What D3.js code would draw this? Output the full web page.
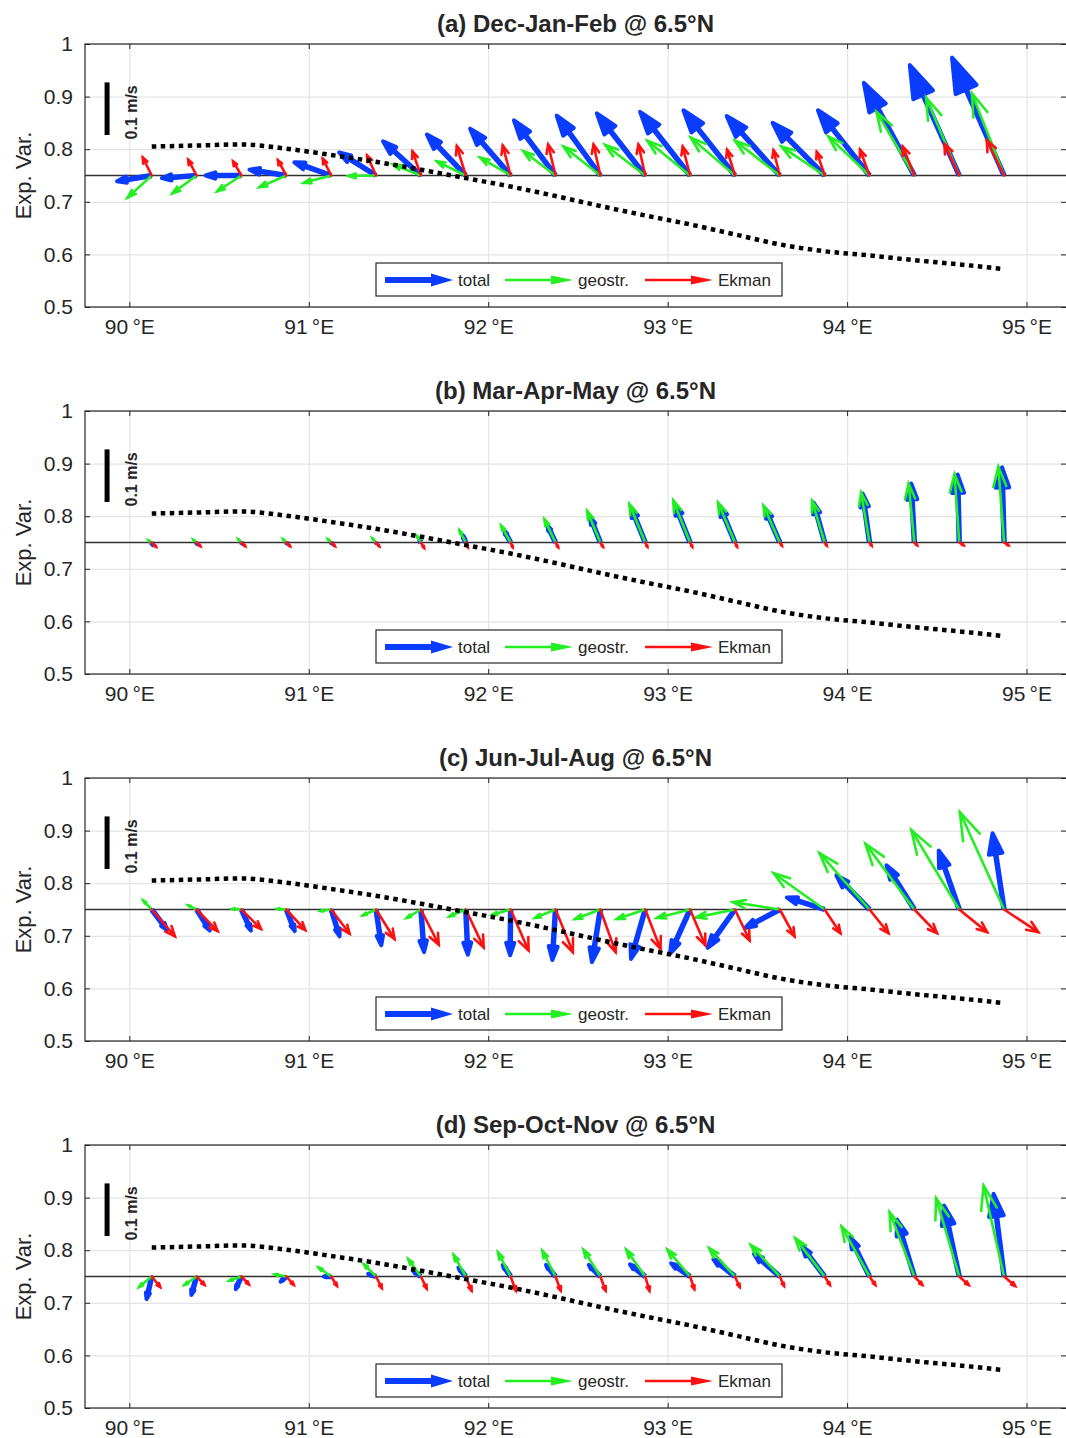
<!DOCTYPE html>
<html>
<head>
<meta charset="utf-8">
<script src="https://cdn.jsdelivr.net/npm/d3@7/dist/d3.min.js"></script>
<style>
    body { margin: 0; background: #fff; }
    text { font-family: "Liberation Sans", Arial, Helvetica, sans-serif; fill: #262626; }
</style>
</head>
<body>
<div id="chart"></div>
<script>

// station longitudes (deg E) along 6.5N
const lons = [90.125, 90.375, 90.625, 90.875, 91.125, 91.375, 91.625, 91.875, 92.125, 92.375,
              92.625, 92.875, 93.125, 93.375, 93.625, 93.875, 94.125, 94.375, 94.625, 94.875];

// explained variance (dotted line), same in every panel
const expVar = [0.805, 0.807, 0.809, 0.801, 0.789, 0.776, 0.761, 0.745, 0.729, 0.711,
                0.692, 0.674, 0.657, 0.638, 0.619, 0.606, 0.598, 0.589, 0.581, 0.572];

const titles = ["(a) Dec-Jan-Feb @ 6.5°N", "(b) Mar-Apr-May @ 6.5°N",
                "(c) Jun-Jul-Aug @ 6.5°N", "(d) Sep-Oct-Nov @ 6.5°N"];

const xTicks = [90, 91, 92, 93, 94, 95];
const yTicks = [0.5, 0.6, 0.7, 0.8, 0.9, 1];

// velocity vectors [u, v] in m/s
const djfTotal = [[-0.066,-0.011],[-0.066,-0.005],[-0.068,0.000],[-0.070,0.011],[-0.070,0.025],
                  [-0.070,0.044],[-0.072,0.065],[-0.074,0.078],[-0.077,0.089],[-0.079,0.105],
                  [-0.083,0.114],[-0.092,0.118],[-0.095,0.121],[-0.098,0.124],[-0.101,0.113],
                  [-0.099,0.100],[-0.098,0.124],[-0.096,0.176],[-0.094,0.210],[-0.099,0.224]];
const djfGeo   = [[-0.046,-0.042],[-0.046,-0.034],[-0.046,-0.030],[-0.051,-0.022],[-0.052,-0.014],
                  [-0.052,-0.001],[-0.053,0.021],[-0.055,0.027],[-0.058,0.034],[-0.061,0.046],
                  [-0.070,0.055],[-0.076,0.058],[-0.081,0.066],[-0.084,0.072],[-0.085,0.066],
                  [-0.082,0.055],[-0.078,0.074],[-0.072,0.121],[-0.063,0.148],[-0.061,0.156]];
const djfEk    = [[-0.017,0.034],[-0.016,0.030],[-0.016,0.027],[-0.016,0.029],[-0.016,0.032],
                  [-0.017,0.038],[-0.016,0.046],[-0.017,0.056],[-0.015,0.057],[-0.014,0.059],
                  [-0.013,0.059],[-0.013,0.059],[-0.014,0.055],[-0.015,0.049],[-0.012,0.048],
                  [-0.015,0.045],[-0.018,0.049],[-0.022,0.055],[-0.028,0.060],[-0.033,0.067]];

const mamTotal = [[0.002,-0.005],[0.001,-0.003],[0.001,-0.002],[0.001,-0.002],[0.001,-0.002],
                  [0.000,-0.001],[-0.003,0.004],[-0.006,0.014],[-0.012,0.022],[-0.015,0.032],
                  [-0.019,0.048],[-0.027,0.067],[-0.029,0.073],[-0.029,0.070],[-0.028,0.065],
                  [-0.021,0.076],[-0.013,0.093],[-0.006,0.112],[-0.003,0.129],[-0.004,0.143]];
const mamGeo   = [[-0.006,0.004],[-0.006,0.005],[-0.006,0.006],[-0.006,0.006],[-0.006,0.006],
                  [-0.007,0.008],[-0.008,0.013],[-0.012,0.023],[-0.018,0.032],[-0.021,0.044],
                  [-0.025,0.060],[-0.030,0.073],[-0.032,0.080],[-0.032,0.076],[-0.031,0.070],
                  [-0.024,0.079],[-0.016,0.095],[-0.011,0.112],[-0.009,0.130],[-0.011,0.144]];
const mamEk    = [[0.008,-0.008],[0.007,-0.007],[0.007,-0.007],[0.007,-0.007],[0.007,-0.007],
                  [0.006,-0.007],[0.006,-0.010],[0.004,-0.009],[0.004,-0.009],[0.005,-0.009],
                  [0.005,-0.008],[0.004,-0.008],[0.004,-0.008],[0.004,-0.008],[0.004,-0.006],
                  [0.004,-0.006],[0.004,-0.006],[0.005,-0.005],[0.008,-0.005],[0.008,-0.005]];

const jjaTotal = [[0.029,-0.039],[0.025,-0.040],[0.018,-0.040],[0.016,-0.041],[0.016,-0.051],
                  [0.010,-0.068],[0.006,-0.081],[0.004,-0.086],[-0.001,-0.087],[-0.006,-0.096],
                  [-0.016,-0.100],[-0.027,-0.094],[-0.038,-0.084],[-0.052,-0.073],[-0.066,-0.035],
                  [-0.072,0.023],[-0.063,0.065],[-0.053,0.084],[-0.039,0.112],[-0.022,0.145]];
const jjaGeo   = [[-0.016,0.017],[-0.016,0.008],[-0.017,0.001],[-0.017,0.001],[-0.020,-0.003],
                  [-0.025,-0.011],[-0.027,-0.016],[-0.031,-0.013],[-0.035,-0.010],[-0.039,-0.016],
                  [-0.048,-0.018],[-0.054,-0.018],[-0.063,-0.016],[-0.074,-0.015],[-0.089,0.014],
                  [-0.097,0.069],[-0.095,0.107],[-0.093,0.125],[-0.091,0.151],[-0.084,0.185]];
const jjaEk    = [[0.044,-0.051],[0.040,-0.041],[0.037,-0.037],[0.036,-0.039],[0.035,-0.046],
                  [0.035,-0.056],[0.034,-0.067],[0.034,-0.072],[0.034,-0.078],[0.033,-0.081],
                  [0.029,-0.081],[0.029,-0.075],[0.029,-0.068],[0.028,-0.059],[0.028,-0.051],
                  [0.030,-0.045],[0.036,-0.045],[0.043,-0.045],[0.053,-0.043],[0.065,-0.043]];

const sonTotal = [[-0.010,-0.043],[-0.010,-0.035],[-0.011,-0.024],[-0.011,-0.010],[-0.014,0.000],
                  [-0.015,0.005],[-0.015,0.011],[-0.014,0.017],[-0.015,0.022],[-0.018,0.022],
                  [-0.022,0.022],[-0.029,0.023],[-0.036,0.025],[-0.041,0.033],[-0.049,0.043],
                  [-0.043,0.057],[-0.037,0.075],[-0.033,0.108],[-0.029,0.135],[-0.020,0.157]];
const sonGeo   = [[-0.024,-0.020],[-0.023,-0.016],[-0.023,-0.008],[-0.022,0.004],[-0.024,0.017],
                  [-0.023,0.023],[-0.024,0.033],[-0.023,0.041],[-0.024,0.046],[-0.025,0.049],
                  [-0.032,0.051],[-0.036,0.051],[-0.043,0.051],[-0.049,0.054],[-0.055,0.060],
                  [-0.056,0.073],[-0.053,0.095],[-0.047,0.122],[-0.044,0.149],[-0.039,0.173]];
const sonEk    = [[0.016,-0.020],[0.015,-0.016],[0.014,-0.015],[0.014,-0.016],[0.011,-0.018],
                  [0.011,-0.022],[0.011,-0.023],[0.011,-0.027],[0.010,-0.027],[0.010,-0.027],
                  [0.010,-0.027],[0.008,-0.027],[0.008,-0.024],[0.009,-0.020],[0.008,-0.018],
                  [0.010,-0.016],[0.011,-0.016],[0.015,-0.016],[0.018,-0.016],[0.021,-0.018]];

const seriesNames = ["total", "geostr.", "Ekman"];


const svg = d3.select("#chart").append("svg")
    .attr("width", 1066)
    .attr("height", 1438);

// arrow looks per series (head size follows vector length, like quiver)
const styles = {
    total:  {color: "#0a3cff", width: 5.5, headFrac: 0.27, headW: 0.33, filled: true},
    geo:    {color: "#22ee22", width: 2.6, headFrac: 0.26, headW: 0.33, filled: false},
    ekman:  {color: "#ff1010", width: 2.6, headFrac: 0.28, headW: 0.42, filled: false}
};


class QuiverPanel {
    constructor(top, title, total, geo, ekman) {
        this.top = top;
        this.title = title;
        this.total = total;
        this.geo = geo;
        this.ekman = ekman;
        this.baseline = 0.75;

        this.initVis();
    }

    initVis() {
        let vis = this;

        vis.left = 85;
        vis.right = 1066;
        vis.height = 263;

        vis.g = svg.append("g")
            .attr("transform", `translate(0, ${vis.top})`);

        vis.x = d3.scaleLinear()
            .domain([89.753, 95.22])
            .range([vis.left, vis.right]);

        vis.y = d3.scaleLinear()
            .domain([0.5, 1])
            .range([vis.height, 0]);

        // pixels per m/s (quiver uses the y scale for both components)
        vis.k = (vis.y(0) - vis.y(0.1)) / 0.1;

        vis.drawAxes();
        vis.updateVis();
    }

    drawAxes() {
        let vis = this;
        let w = vis.right - vis.left;

        // grid
        vis.g.append("g")
            .attr("class", "grid")
            .attr("transform", `translate(0, ${vis.height})`)
            .call(d3.axisBottom(vis.x).tickValues(xTicks).tickSize(-vis.height).tickFormat(""));
        vis.g.append("g")
            .attr("class", "grid")
            .attr("transform", `translate(${vis.left}, 0)`)
            .call(d3.axisLeft(vis.y).tickValues(yTicks).tickSize(-w).tickFormat(""));
        vis.g.selectAll(".grid .domain").remove();
        vis.g.selectAll(".grid line").attr("stroke", "#e4e4e4").attr("stroke-width", 1.2);

        // box
        vis.g.append("rect")
            .attr("x", vis.left)
            .attr("y", 0)
            .attr("width", w + 1)
            .attr("height", vis.height)
            .attr("fill", "none")
            .attr("stroke", "#262626")
            .attr("stroke-width", 1.2);

        // tick axes (ticks point inward)
        let bottom = vis.g.append("g")
            .attr("transform", `translate(0, ${vis.height})`)
            .call(d3.axisBottom(vis.x).tickValues(xTicks).tickSizeInner(-5).tickSizeOuter(0)
                .tickPadding(12).tickFormat(d => d + "\u2009°E"));
        let left = vis.g.append("g")
            .attr("transform", `translate(${vis.left}, 0)`)
            .call(d3.axisLeft(vis.y).tickValues(yTicks).tickSizeInner(-5).tickSizeOuter(0)
                .tickPadding(12).tickFormat(d => d === 1 ? "1" : d.toFixed(1)));
        let topAx = vis.g.append("g")
            .call(d3.axisTop(vis.x).tickValues(xTicks).tickSizeInner(-5).tickSizeOuter(0).tickFormat(""));
        let rightAx = vis.g.append("g")
            .attr("transform", `translate(${vis.right}, 0)`)
            .call(d3.axisRight(vis.y).tickValues(yTicks).tickSizeInner(-5).tickSizeOuter(0).tickFormat(""));

        [bottom, left, topAx, rightAx].forEach(a => {
            a.select(".domain").remove();
            a.selectAll("line").attr("stroke", "#262626");
            a.selectAll("text")
                .attr("fill", "#262626")
                .style("font-size", "21px")
                .style("font-family", '"Liberation Sans", Arial, sans-serif');
        });

        // y label
        vis.g.append("text")
            .attr("transform", `translate(23, ${vis.y(0.75)}) rotate(-90)`)
            .attr("text-anchor", "middle")
            .attr("dominant-baseline", "central")
            .style("font-size", "22px")
            .text("Exp. Var.");

        // title
        vis.g.append("text")
            .attr("x", (vis.left + vis.right) / 2)
            .attr("y", -12)
            .attr("text-anchor", "middle")
            .style("font-size", "24px")
            .style("font-weight", "bold")
            .attr("fill", "#000")
            .text(vis.title);
    }

    updateVis() {
        let vis = this;

        // 0.75 reference line
        vis.g.append("line")
            .attr("x1", vis.left)
            .attr("x2", vis.right)
            .attr("y1", vis.y(vis.baseline))
            .attr("y2", vis.y(vis.baseline))
            .attr("stroke", "#303030")
            .attr("stroke-width", 1.3);

        // scale bar 0.1 m/s
        let barLon = 89.876;
        vis.g.append("line")
            .attr("x1", vis.x(barLon))
            .attr("x2", vis.x(barLon))
            .attr("y1", vis.y(0.927))
            .attr("y2", vis.y(0.927 - 0.1))
            .attr("stroke", "#000")
            .attr("stroke-width", 5);
        vis.g.append("text")
            .attr("transform", `translate(${vis.x(barLon) + 24}, ${vis.y(0.87)}) rotate(-90)`)
            .attr("text-anchor", "middle")
            .attr("dominant-baseline", "central")
            .style("font-size", "16px")
            .style("font-weight", "bold")
            .attr("fill", "#000")
            .text("0.1 m/s");

        // vectors: total, then geostrophic, then Ekman on top
        let arrows = vis.g.append("g").attr("class", "arrows");
        [[vis.total, styles.total], [vis.geo, styles.geo], [vis.ekman, styles.ekman]].forEach(([data, st]) => {
            data.forEach((d, i) => vis.drawArrow(arrows, lons[i], d[0], d[1], st));
        });

        // explained variance
        let line = d3.line()
            .x((d, i) => vis.x(lons[i]))
            .y(d => vis.y(d))
            .curve(d3.curveMonotoneX);
        vis.g.append("path")
            .datum(expVar)
            .attr("d", line)
            .attr("fill", "none")
            .attr("stroke", "#000")
            .attr("stroke-width", 4.5)
            .attr("stroke-dasharray", "4.5 4.5");

        vis.drawLegend();
    }

    drawArrow(g, lon, u, v, st) {
        let vis = this;
        let x0 = vis.x(lon), y0 = vis.y(vis.baseline);
        let x1 = x0 + u * vis.k, y1 = vis.y(vis.baseline + v);
        let dx = x1 - x0, dy = y1 - y0;
        let L = Math.hypot(dx, dy);
        if (L < 0.5) return;
        let ux = dx / L, uy = dy / L;
        let hl = st.headFrac * L;
        let hw = hl * st.headW;
        let bx = x1 - ux * hl, by = y1 - uy * hl;
        let b1 = [bx - uy * hw, by + ux * hw];
        let b2 = [bx + uy * hw, by - ux * hw];

        // shaft
        g.append("line")
            .attr("x1", x0).attr("y1", y0)
            .attr("x2", st.filled ? bx : x1).attr("y2", st.filled ? by : y1)
            .attr("stroke", st.color)
            .attr("stroke-width", st.width)
            .attr("stroke-linecap", st.filled ? "butt" : "round");

        // head
        g.append("path")
            .attr("d", `M${b1[0]},${b1[1]}L${x1},${y1}L${b2[0]},${b2[1]}` + (st.filled ? "Z" : ""))
            .attr("fill", st.filled ? st.color : "none")
            .attr("stroke", st.color)
            .attr("stroke-width", st.filled ? 4 : st.width)
            .attr("stroke-linejoin", st.filled ? "round" : "miter")
            .attr("stroke-linecap", "round");
    }

    drawLegend() {
        let vis = this;
        let lg = vis.g.append("g").attr("transform", `translate(376, 219)`);

        lg.append("rect")
            .attr("width", 406)
            .attr("height", 33)
            .attr("fill", "#fff")
            .attr("stroke", "#262626")
            .attr("stroke-width", 1.2);

        let items = [
            {st: styles.total, x: 9, hh: 6.5, text: seriesNames[0]},
            {st: styles.geo, x: 129, hh: 4.5, text: seriesNames[1]},
            {st: styles.ekman, x: 269, hh: 4.5, text: seriesNames[2]}
        ];
        items.forEach(it => {
            lg.append("line")
                .attr("x1", it.x).attr("x2", it.x + 50)
                .attr("y1", 17).attr("y2", 17)
                .attr("stroke", it.st.color)
                .attr("stroke-width", it.st.filled ? 6 : 2.6);
            lg.append("path")
                .attr("d", `M${it.x + 46},${17 - it.hh}L${it.x + 68},17L${it.x + 46},${17 + it.hh}Z`)
                .attr("fill", it.st.color);
            lg.append("text")
                .attr("x", it.x + 73)
                .attr("y", 17)
                .attr("dominant-baseline", "central")
                .style("font-size", "17px")
                .text(it.text);
        });
    }
}


const panelTops = [44, 411, 778, 1145];
new QuiverPanel(panelTops[0], titles[0], djfTotal, djfGeo, djfEk);
new QuiverPanel(panelTops[1], titles[1], mamTotal, mamGeo, mamEk);
new QuiverPanel(panelTops[2], titles[2], jjaTotal, jjaGeo, jjaEk);
new QuiverPanel(panelTops[3], titles[3], sonTotal, sonGeo, sonEk);

</script>
</body>
</html>
